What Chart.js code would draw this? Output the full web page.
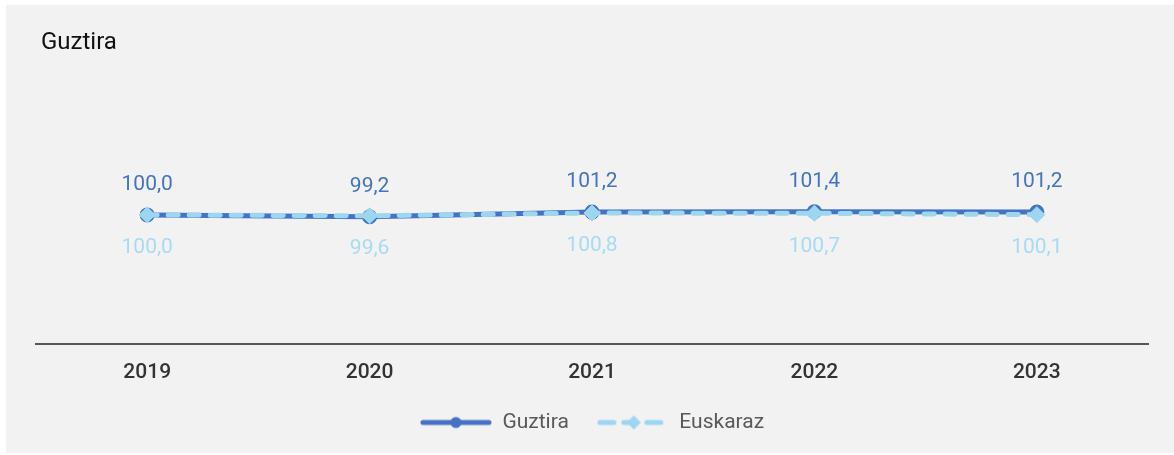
<!DOCTYPE html>
<html><head><meta charset="utf-8">
<script src="https://cdn.jsdelivr.net/npm/chart.js@4/dist/chart.umd.min.js"></script>
<style>
html,body{margin:0;padding:0;background:#fff;}
#wrap{position:absolute;left:6px;top:5px;width:1168px;height:448px;background:#f2f2f2;}
canvas{display:block;}
</style></head><body>
<div id="wrap"><canvas id="c"></canvas></div>
<script>
const categories = ['2019', '2020', '2021', '2022', '2023'];
const guztira = [100.0, 99.2, 101.2, 101.4, 101.2];
const euskaraz = [100.0, 99.6, 100.8, 100.7, 100.1];
const seriesNames = ['Guztira', 'Euskaraz'];
const chartTitle = 'Guztira';

const C_DARK = '#4472c4';
const C_LIGHT = '#9dd6f0';
const C_LIGHT_TXT = '#a6dbf3';
const FONT = 'Roboto, "Noto Sans", sans-serif';

function fmt(v) { return v.toFixed(1).replace('.', ','); }

function markerSolid() {
  const c = document.createElement('canvas'); c.width = 72; c.height = 14;
  const x = c.getContext('2d');
  x.strokeStyle = C_DARK; x.lineWidth = 5; x.lineCap = 'round';
  x.beginPath(); x.moveTo(3, 7); x.lineTo(69, 7); x.stroke();
  x.fillStyle = C_DARK; x.beginPath(); x.arc(36, 7, 5.5, 0, Math.PI * 2); x.fill();
  return c;
}
function markerDashed() {
  const c = document.createElement('canvas'); c.width = 72; c.height = 18;
  const x = c.getContext('2d');
  x.strokeStyle = C_LIGHT; x.lineWidth = 5; x.lineCap = 'round';
  x.beginPath(); x.moveTo(3, 9); x.lineTo(17, 9); x.stroke();
  x.beginPath(); x.moveTo(27, 9); x.lineTo(35, 9); x.stroke();
  x.beginPath(); x.moveTo(50, 9); x.lineTo(64, 9); x.stroke();
  x.fillStyle = C_LIGHT; x.beginPath();
  x.moveTo(37, 2); x.lineTo(44, 9); x.lineTo(37, 16); x.lineTo(30, 9); x.closePath(); x.fill();
  return c;
}
const legendMarkers = [markerSolid(), markerDashed()];

const labelPlugin = {
  id: 'valueLabels',
  afterDatasetsDraw(chart) {
    const ctx = chart.ctx;
    ctx.save();
    ctx.font = '21px ' + FONT;
    ctx.textAlign = 'center';
    ctx.textBaseline = 'middle';
    chart.data.datasets.forEach((ds, i) => {
      const meta = chart.getDatasetMeta(i);
      meta.data.forEach((el, j) => {
        ctx.fillStyle = ds.labelColor;
        ctx.fillText(fmt(ds.data[j]), el.x, el.y + ds.labelOffset);
      });
    });
    ctx.restore();
  }
};
const titlePlugin = {
  id: 'leftTitle',
  afterDraw(chart) {
    const ctx = chart.ctx;
    ctx.save();
    ctx.font = '24px ' + FONT;
    ctx.fillStyle = '#111';
    ctx.textAlign = 'left';
    ctx.textBaseline = 'middle';
    ctx.fillText(chartTitle, 35, 38);
    ctx.restore();
  }
};

new Chart(document.getElementById('c'), {
  type: 'line',
  data: {
    labels: categories,
    datasets: [
      {
        label: seriesNames[0], data: guztira, order: 1,
        borderColor: C_DARK, backgroundColor: C_DARK, borderWidth: 5,
        pointStyle: 'circle', pointRadius: 5, pointBackgroundColor: C_DARK, pointBorderColor: C_DARK,
        tension: 0, labelColor: C_DARK, labelOffset: -30
      },
      {
        label: seriesNames[1], data: euskaraz, order: 0,
        borderColor: C_LIGHT, backgroundColor: C_LIGHT, borderWidth: 5,
        borderDash: [10, 11], borderCapStyle: 'round',
        pointStyle: 'rectRot', pointRadius: 8, pointBackgroundColor: C_LIGHT, pointBorderColor: C_LIGHT, pointBorderWidth: 1,
        tension: 0, labelColor: C_LIGHT_TXT, labelOffset: 33
      }
    ]
  },
  options: {
    responsive: true, maintainAspectRatio: false, animation: false, devicePixelRatio: 1,
    layout: { padding: { left: 30, right: 26, top: 60, bottom: 10 } },
    scales: {
      x: {
        type: 'category', offset: true,
        grid: { display: false, drawTicks: false },
        border: { display: true, color: '#555', width: 2 },
        ticks: { color: '#333', padding: 16, maxRotation: 0, font: { family: FONT, size: 21, weight: '500' } },
        afterFit(scale) { scale.height = 40; }
      },
      y: { display: false, min: 44, max: 165 }
    },
    plugins: {
      title: { display: false },
      tooltip: { enabled: false },
      legend: {
        position: 'bottom',
        labels: {
          usePointStyle: true, pointStyleWidth: 72, padding: 28,
          color: '#595959', font: { family: FONT, size: 21 },
          generateLabels(chart) {
            return chart.data.datasets.map((ds, i) => ({
              text: ds.label, pointStyle: legendMarkers[i], fillStyle: ds.borderColor,
              strokeStyle: ds.borderColor, lineWidth: 0, hidden: false, datasetIndex: i, fontColor: '#595959'
            }));
          }
        }
      }
    }
  },
  plugins: [labelPlugin, titlePlugin]
});
</script>
</body></html>
